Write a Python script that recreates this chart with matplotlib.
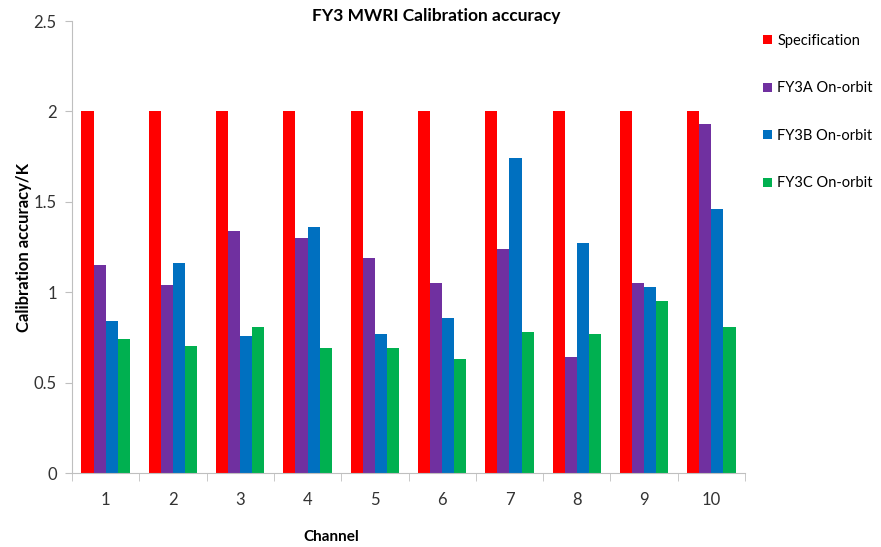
import numpy as np
import matplotlib
matplotlib.use("Agg")
import matplotlib.pyplot as plt
from matplotlib.patches import Patch

plt.rcParams['font.family'] = ['Lato', 'DejaVu Sans']

channels = ['1', '2', '3', '4', '5', '6', '7', '8', '9', '10']
spec = [2, 2, 2, 2, 2, 2, 2, 2, 2, 2]
fy3a = [1.15, 1.04, 1.34, 1.30, 1.19, 1.05, 1.24, 0.64, 1.05, 1.93]
fy3b = [0.84, 1.16, 0.76, 1.36, 0.77, 0.86, 1.74, 1.27, 1.03, 1.46]
fy3c = [0.74, 0.70, 0.81, 0.69, 0.69, 0.63, 0.78, 0.77, 0.95, 0.81]

series = [spec, fy3a, fy3b, fy3c]
names = ['Specification', 'FY3A On-orbit', 'FY3B On-orbit', 'FY3C On-orbit']
colors = ['#FF0000', '#7030A0', '#0070C0', '#00B050']

fig = plt.figure(figsize=(8.81, 5.47), dpi=100)
ax = fig.add_axes([72 / 881, 1 - 473 / 547, 673 / 881, 452 / 547])

x = np.arange(len(channels))
w = 0.18
for i, (vals, c) in enumerate(zip(series, colors)):
    ax.bar(x + (i - 1.5) * w, vals, width=w, color=c, linewidth=0)

ax.set_xlim(-0.5, len(channels) - 0.5)
ax.set_ylim(0, 2.5)
ax.set_yticks([0, 0.5, 1, 1.5, 2, 2.5])
ax.set_yticklabels(['0', '0.5', '1', '1.5', '2', '2.5'])
ax.set_xticks(x)
ax.set_xticklabels(channels)
ax.set_xticks(np.arange(-0.5, len(channels)), minor=True)
ax.tick_params(axis='x', which='major', length=0, pad=14, labelsize=12, labelcolor='#333333')
ax.tick_params(axis='x', which='minor', length=6, color='#BFBFBF', direction='out')
ax.tick_params(axis='y', length=5, color='#BFBFBF', labelsize=12, labelcolor='#333333', pad=6)

for s in ['top', 'right']:
    ax.spines[s].set_visible(False)
for s in ['left', 'bottom']:
    ax.spines[s].set_color('#BFBFBF')

ax.set_ylabel('Calibration accuracy/K', fontsize=12, fontweight='bold', labelpad=1)
fig.text(331 / 881, 1 - 537 / 547, 'Channel', ha='center', va='center',
         fontsize=11, fontweight='bold')
fig.text(436 / 881, 1 - 16 / 547, 'FY3 MWRI Calibration accuracy', ha='center',
         va='center', fontsize=12.5, fontweight='bold')

handles = [Patch(facecolor=c, edgecolor='none') for c in colors]
fig.legend(handles, names, loc='upper left', bbox_to_anchor=(757 / 881, 1 - 28 / 547),
           frameon=False, fontsize=10.5, handlelength=0.6, handleheight=0.6,
           handletextpad=0.4, labelspacing=2.3, borderaxespad=0)

fig.savefig('out.png', dpi=100)
